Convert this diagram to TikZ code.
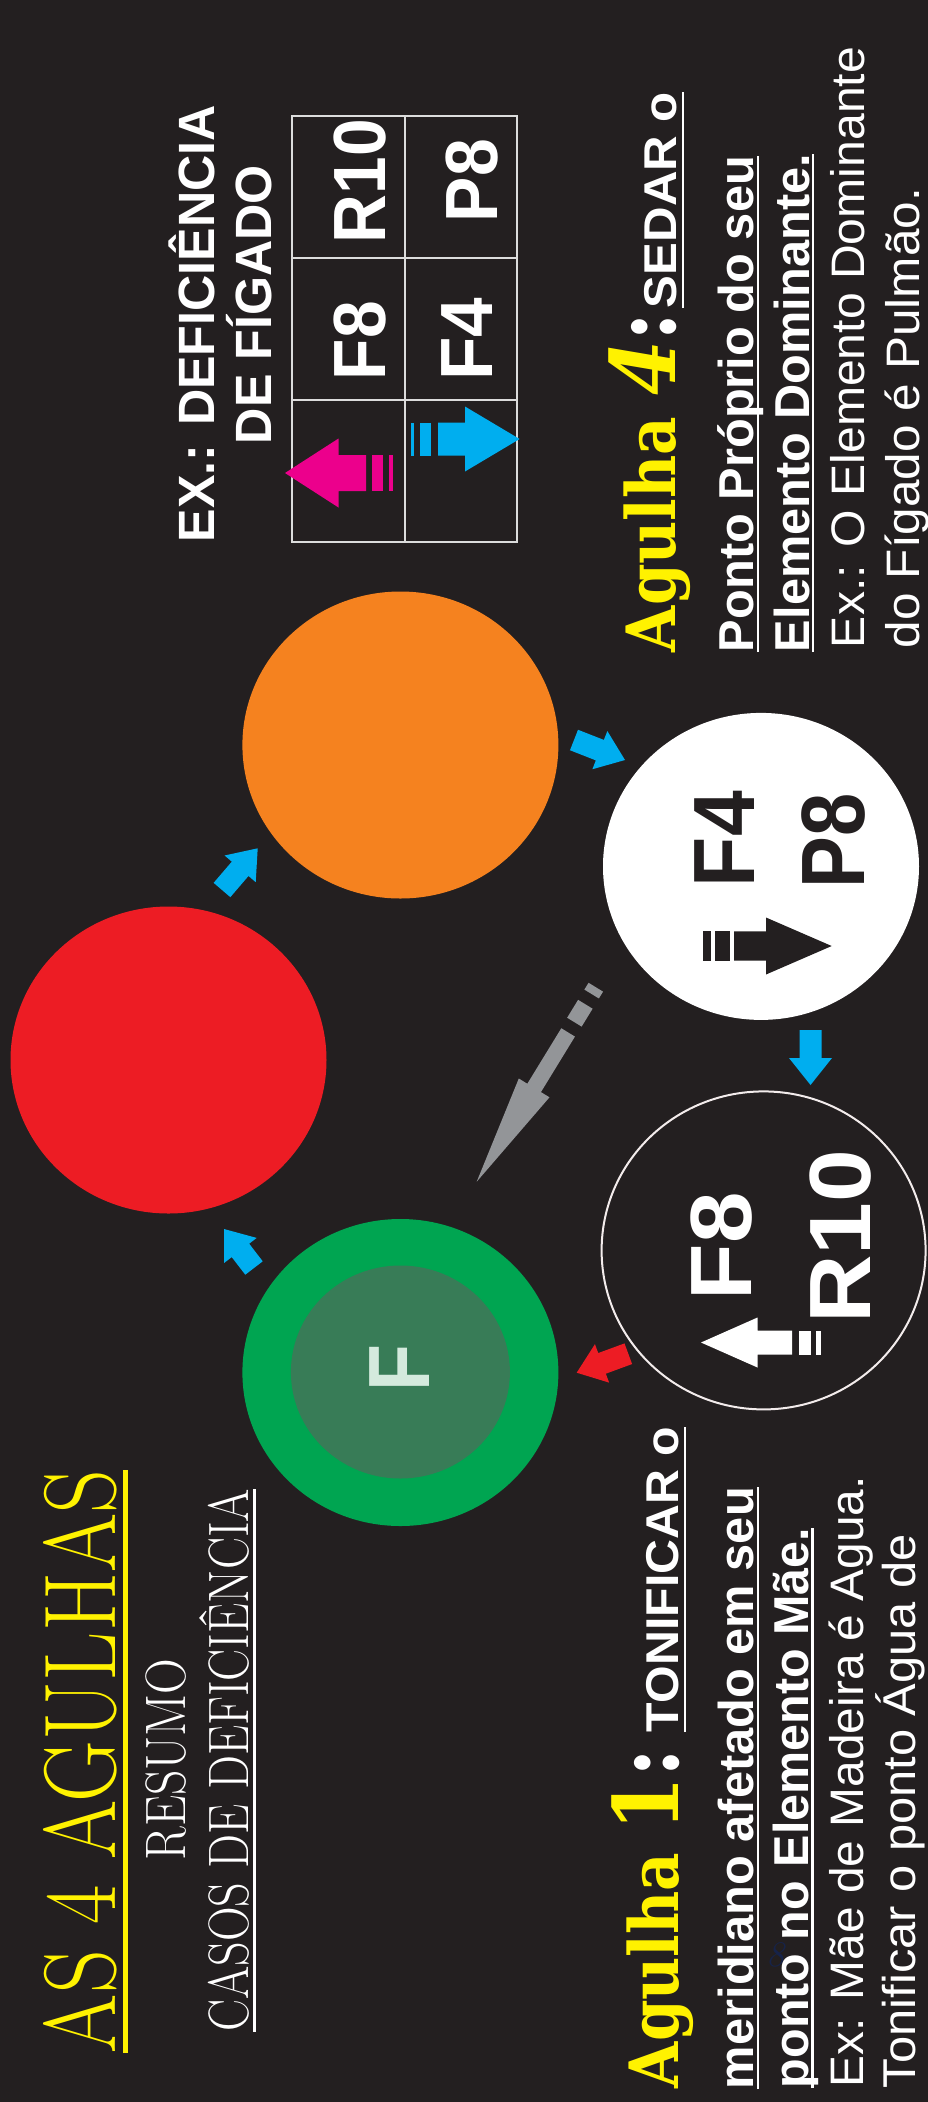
\documentclass[tikz,border=0pt]{standalone}
\usepackage{fontspec}
\usepackage{graphicx}
\usetikzlibrary{calc,shapes.geometric}
\newfontfamily\arial{Liberation Sans}
\newfontfamily\agfont{DejaVu Serif}
\definecolor{bg}{HTML}{231F20}
\definecolor{ygold}{HTML}{FFF200}
\definecolor{cred}{HTML}{ED1C24}
\definecolor{corange}{HTML}{F5821F}
\definecolor{cgreen}{HTML}{00A551}
\definecolor{cgreenin}{HTML}{387C57}
\definecolor{cfl}{HTML}{D4EADD}
\definecolor{cblue}{HTML}{00AEEF}
\definecolor{cpink}{HTML}{EC008C}
\definecolor{cgray}{HTML}{939598}
\definecolor{cnavy}{HTML}{16234A}
\definecolor{tline}{HTML}{DCDCDC}
\definecolor{ring}{HTML}{F3ECEC}
\newcommand\fitw[2]{\resizebox{#1}{\height}{#2}}
\newcommand\fs[1]{\fontsize{#1}{#1}\selectfont}
% arrow body: color, tail, tip, shaft start, shaft half width, head half width, head length
\newcommand\arrowpoly[7]{%
 \fill[#1] ($($(#2)!#4!(#3)$)!#5!90:(#3)$) -- ($($(#3)!#7!(#2)$)!#5!-90:(#2)$) -- ($($(#3)!#7!(#2)$)!#6!-90:(#2)$) -- (#3) -- ($($(#3)!#7!(#2)$)!#6!90:(#2)$) -- ($($(#3)!#7!(#2)$)!#5!90:(#2)$) -- ($($(#2)!#4!(#3)$)!#5!-90:(#3)$) -- cycle;}
% bar: color, tail, tip, from, to, half width
\newcommand\arrowbar[6]{%
 \fill[#1] ($($(#2)!#4!(#3)$)!#6!90:(#3)$) -- ($($(#2)!#5!(#3)$)!#6!90:(#3)$) -- ($($(#2)!#5!(#3)$)!#6!-90:(#3)$) -- ($($(#2)!#4!(#3)$)!#6!-90:(#3)$) -- cycle;}
\begin{document}
\begin{tikzpicture}[x=1pt,y=-1pt,
 txt/.style={rotate=90, anchor=base west, inner sep=0pt, outer sep=0pt},
 ul/.style={white, line width=2.6pt},
 circ/.style={ellipse, inner sep=0pt, minimum width=316pt, minimum height=307pt}]
\useasboundingbox (0,0) rectangle (928,2102);
\clip (0,0) rectangle (928,2102);
\fill[bg] (0,0) rectangle (928,2102);

% circles
\node[circ, fill=cred] (red) at (168.5,1060) {};
\node[circ, fill=corange] (orange) at (400.4,745) {};
\node[circ, fill=cgreen] (green) at (400.4,1372.5) {};
\node[ellipse, inner sep=0pt, minimum width=219pt, minimum height=213pt, fill=cgreenin] (greenin) at (400.4,1372) {};
\node[circ, fill=white] (white) at (761,866.4) {};
\node[ellipse, inner sep=0pt, minimum width=324pt, minimum height=318pt, draw=ring, line width=2pt, fill=bg] (outl) at (763.6,1250.4) {};

% circle texts
\node[txt, text=cfl] (fF) at (429,1391) {\fitw{47pt}{\arial\bfseries\fs{87}F}};
\node[txt, text=bg] (wF4) at (754.6,887) {\fitw{96pt}{\arial\bfseries\fs{87}F4}};
\node[txt, text=bg] (wP8) at (864,888) {\fitw{95pt}{\arial\bfseries\fs{90}P8}};
\node[txt, text=white] (oF8) at (751.5,1300.5) {\fitw{108pt}{\arial\bfseries\fs{87}F8}};
\node[txt, text=white] (oR10) at (870,1323.5) {\fitw{174pt}{\arial\bfseries\fs{87}R10}};

% needle icons in circles
\coordinate (bks) at (702.7,946);
\coordinate (bke) at (831.7,946);
\arrowbar{bg}{bks}{bke}{0pt}{8.3pt}{14.7pt}
\arrowbar{bg}{bks}{bke}{12.3pt}{27.3pt}{14.7pt}
\arrowpoly{bg}{bks}{bke}{31.3pt}{14.7pt}{28.5pt}{65.7pt}
\coordinate (wks) at (821,1342.5);
\coordinate (wke) at (701,1342.5);
\arrowbar{white}{wks}{wke}{0pt}{5pt}{12pt}
\arrowbar{white}{wks}{wke}{10pt}{22pt}{12pt}
\arrowpoly{white}{wks}{wke}{29pt}{12pt}{25pt}{56.5pt}

% connectors between circles
\coordinate (a1s) at (222,890);     \coordinate (a1e) at (257.7,848.3);
\coordinate (a2s) at (574,740);     \coordinate (a2e) at (625,760);
\coordinate (a3s) at (810.5,1030);  \coordinate (a3e) at (810.5,1085);
\coordinate (a4s) at (254,1268);    \coordinate (a4e) at (224,1229);
\coordinate (a5s) at (628.3,1353.7);\coordinate (a5e) at (576.7,1372.7);
\arrowpoly{cblue}{a1s}{a1e}{0pt}{11pt}{20.5pt}{27pt}
\arrowpoly{cblue}{a2s}{a2e}{0pt}{11pt}{20.5pt}{27pt}
\arrowpoly{cblue}{a3s}{a3e}{0pt}{11pt}{21.5pt}{27pt}
\arrowpoly{cblue}{a4s}{a4e}{0pt}{11pt}{20.5pt}{27pt}
\arrowpoly{cred}{a5s}{a5e}{0pt}{11pt}{20.5pt}{27pt}

% gray dashed arrow
\coordinate (gs) at (595.8,987.2);
\coordinate (ge) at (476.7,1181.7);
\arrowbar{cgray}{gs}{ge}{0pt}{8pt}{8.5pt}
\arrowbar{cgray}{gs}{ge}{20pt}{41pt}{8.5pt}
\arrowpoly{cgray}{gs}{ge}{53pt}{8pt}{18pt}{110pt}

% title block
\node[txt, text=ygold] (title) at (115.4,2053) {\fitw{583pt}{\fs{102}AS 4 AGULHAS}};
\draw[ygold, line width=4.5pt] ([xshift=10pt]title.base west) -- ([xshift=10pt]title.base east);
\node[txt, text=white] (resumo) at (185,1860.4) {\fitw{202pt}{\fs{57}RESUMO}};
\node[txt, text=white] (casos) at (248.3,2031.8) {\fitw{543pt}{\fs{57}CASOS DE DEFICIÊNCIA}};
\draw[white, line width=2.4pt] ([xshift=6pt]casos.base west) -- ([xshift=6pt]casos.base east);

% Agulha 1 block
\node[txt] (ag1) at (678.3,2088) {\fitw{340pt}{\agfont\bfseries\color{ygold}\fs{68}Agulha \fs{90}1\color{white}:}};
\node[txt, text=white] (ton) at (678.3,1732) {\fitw{305pt}{\arial\bfseries\fs{46}TONIFICAR o}};
\draw[ul] ([xshift=6.5pt]ton.base west) -- ([xshift=6.5pt]ton.base east);
\node[txt, text=white] (mer) at (753.3,2089) {\fitw{602pt}{\arial\bfseries\fs{49}meridiano afetado em seu}};
\draw[ul] ([xshift=4.8pt]mer.base west) -- ([xshift=4.8pt]mer.base east);
\node[txt, text=white] (pon) at (808.3,2088) {\fitw{560pt}{\arial\bfseries\fs{49}ponto no Elemento Mãe.}};
\draw[ul] ([xshift=4pt]pon.base west) -- ([xshift=4pt]pon.base east);
\node[text=cnavy, inner sep=0pt] (n8) at (775,1955) {\fs{36}\itshape 8};
\node[txt, text=white] (ex1) at (863.3,2087) {\fitw{611pt}{\arial\fs{47}Ex: Mãe de Madeira é Agua.}};
\node[txt, text=white] (ton2) at (915.5,2088) {\fitw{554pt}{\arial\fs{46}Tonificar o ponto Água de}};

% Agulha 4 block
\node[txt] (ag4) at (675,652) {\fitw{340pt}{\agfont\bfseries\color{ygold}\fs{68}Agulha \fs{90}\itshape 4\upshape\color{white}:}};
\node[txt, text=white] (sed) at (676,308) {\fitw{216pt}{\arial\bfseries\fs{46}SEDAR o}};
\draw[ul] ([xshift=7pt]sed.base west) -- ([xshift=7pt]sed.base east);
\node[txt, text=white] (ppr) at (753,652) {\fitw{496pt}{\arial\bfseries\fs{49}Ponto Próprio do seu}};
\draw[ul] ([xshift=5pt]ppr.base west) -- ([xshift=5pt]ppr.base east);
\node[txt, text=white] (eld) at (809,652) {\fitw{498pt}{\arial\bfseries\fs{49}Elemento Dominante.}};
\draw[ul] ([xshift=4pt]eld.base west) -- ([xshift=4pt]eld.base east);
\node[txt, text=white] (ex4) at (864.5,648) {\fitw{601pt}{\arial\fs{47}Ex.: O Elemento Dominante}};
\node[txt, text=white] (dof) at (919,648) {\fitw{460pt}{\arial\fs{47}do Fígado é Pulmão.}};

% example table
\node[txt, text=white] (exd) at (214.5,542) {\fitw{437pt}{\arial\bfseries\fs{51}EX.: DEFICIÊNCIA}};
\node[txt, text=white] (dfg) at (271.6,444) {\fitw{279pt}{\arial\bfseries\fs{51}DE FÍGADO}};
\draw[tline, line width=2pt] (292.4,116) rectangle (517.2,542);
\draw[tline, line width=2pt] (404.5,116) -- (404.5,542);
\draw[tline, line width=2pt] (292.4,258) -- (517.2,258);
\draw[tline, line width=2pt] (292.4,399.5) -- (517.2,399.5);
\node[txt, text=white] (tR10) at (385.7,243) {\fitw{124pt}{\arial\bfseries\fs{74}R10}};
\node[txt, text=white] (tF8) at (385.7,380) {\fitw{79pt}{\arial\bfseries\fs{74}F8}};
\node[txt, text=white] (tP8) at (497,222) {\fitw{83pt}{\arial\bfseries\fs{74}P8}};
\node[txt, text=white] (tF4) at (492.4,380.5) {\fitw{83pt}{\arial\bfseries\fs{74}F4}};
\coordinate (pks) at (393,473);
\coordinate (pke) at (285,473);
\arrowbar{cpink}{pks}{pke}{0pt}{4pt}{18pt}
\arrowbar{cpink}{pks}{pke}{10pt}{21pt}{18pt}
\arrowpoly{cpink}{pks}{pke}{27pt}{18pt}{34.5pt}{53.5pt}
\coordinate (cks) at (410.5,439);
\coordinate (cke) at (519.6,439);
\arrowbar{cblue}{cks}{cke}{0pt}{3.5pt}{16.5pt}
\arrowbar{cblue}{cks}{cke}{9.5pt}{20.5pt}{16.5pt}
\arrowpoly{cblue}{cks}{cke}{27.5pt}{16.5pt}{32.5pt}{54.6pt}
\end{tikzpicture}
\end{document}
